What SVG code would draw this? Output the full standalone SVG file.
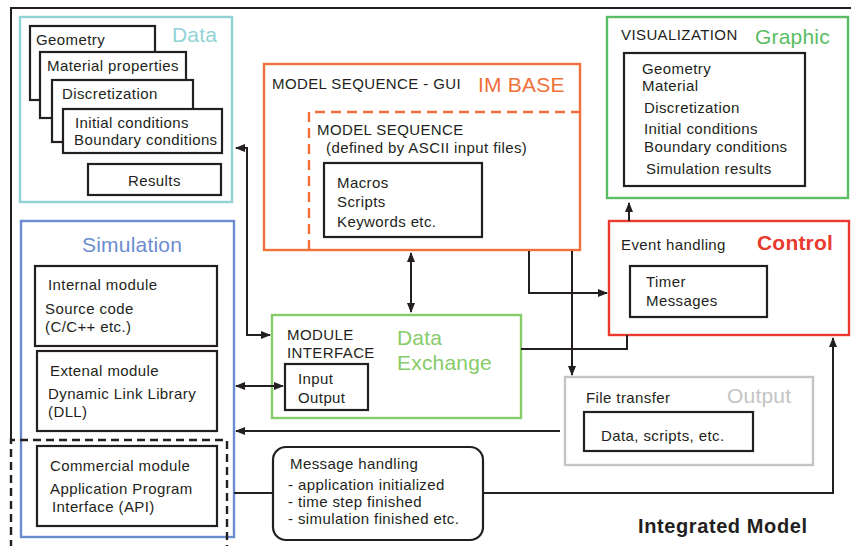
<svg xmlns="http://www.w3.org/2000/svg" width="851" height="546" viewBox="0 0 851 546">
<style>
text{font-family:"Liberation Sans",Arial,sans-serif;font-size:15px;letter-spacing:0.4px;fill:#231f20}
.t{font-size:21px;letter-spacing:0.2px}
.b{fill:none;stroke:#231f20;stroke-width:2.2}
.w{fill:#fff;stroke:#231f20;stroke-width:2.2}
.c{fill:none;stroke:#231f20;stroke-width:2}
</style>
<defs>
<marker id="ah" viewBox="0 0 10 10" refX="9" refY="5" markerWidth="5" markerHeight="5" orient="auto-start-reverse" markerUnits="strokeWidth">
<path d="M0 1L10 5L0 9Z" fill="#231f20"/>
</marker>
</defs>
<rect width="851" height="546" fill="#fff"/>
<g id="frame">
<path d="M11 440V8H851" class="c" stroke-width="2.4"/>
<text x="638" y="533" style="font-size:20px;font-weight:bold;letter-spacing:0.6px">Integrated Model</text>
</g>
<g id="data">
<rect x="20" y="17" width="212" height="185" fill="none" stroke="#91d3d5" stroke-width="2.4"/>
<text x="172" y="42" class="t" style="fill:#91d3d5">Data</text>
<rect x="30" y="26" width="125" height="74" class="w"/>
<text x="36" y="45">Geometry</text>
<rect x="40" y="52" width="146" height="66" class="w"/>
<text x="47" y="71">Material properties</text>
<rect x="52" y="80" width="141" height="62" class="w"/>
<text x="62" y="99">Discretization</text>
<rect x="63" y="109" width="159" height="44" class="w"/>
<text x="75" y="128">Initial conditions</text>
<text x="74" y="145">Boundary conditions</text>
<rect x="88" y="164" width="133" height="31" class="w"/>
<text x="128" y="186">Results</text>
</g>
<g id="imbase">
<rect x="264" y="64" width="316" height="186" fill="none" stroke="#f0703a" stroke-width="2.4"/>
<text x="272" y="89">MODEL SEQUENCE - GUI</text>
<text x="478" y="92" class="t" style="fill:#f0703a">IM BASE</text>
<path d="M309 250V112H580" fill="none" stroke="#f0703a" stroke-width="2.4" stroke-dasharray="10 6"/>
<text x="317" y="135">MODEL SEQUENCE</text>
<text x="326" y="153">(defined by ASCII input files)</text>
<rect x="324" y="163" width="158" height="74" class="b"/>
<text x="337" y="188">Macros</text>
<text x="337" y="207">Scripts</text>
<text x="337" y="227">Keywords etc.</text>
</g>
<g id="visualization">
<rect x="607" y="17" width="241" height="181" fill="none" stroke="#5bbd63" stroke-width="2.4"/>
<text x="621" y="40">VISUALIZATION</text>
<text x="755" y="44" class="t" style="fill:#5bbd63">Graphic</text>
<rect x="624" y="53" width="181" height="133" class="b"/>
<text x="642" y="74">Geometry</text>
<text x="642" y="91">Material</text>
<text x="644" y="113">Discretization</text>
<text x="644" y="134">Initial conditions</text>
<text x="644" y="152">Boundary conditions</text>
<text x="646" y="174">Simulation results</text>
</g>
<g id="control">
<rect x="609" y="221" width="240" height="114" fill="none" stroke="#ea3a30" stroke-width="2.4"/>
<text x="621" y="250">Event handling</text>
<text x="757" y="250" class="t" style="fill:#ea3a30;font-weight:bold">Control</text>
<rect x="630" y="266" width="137" height="51" class="b"/>
<text x="646" y="287">Timer</text>
<text x="646" y="306">Messages</text>
</g>
<g id="simulation">
<rect x="21" y="221" width="213" height="316" fill="none" stroke="#6b8dcf" stroke-width="2.4"/>
<text x="82" y="252" class="t" style="fill:#6b8dcf">Simulation</text>
<rect x="35" y="266" width="182" height="80" class="b"/>
<text x="48" y="290">Internal module</text>
<text x="45" y="314">Source code</text>
<text x="45" y="332">(C/C++ etc.)</text>
<rect x="37" y="351" width="180" height="80" class="b"/>
<text x="50" y="376">Extenal module</text>
<text x="48" y="399">Dynamic Link Library</text>
<text x="48" y="417">(DLL)</text>
<rect x="37" y="446" width="180" height="80" class="b"/>
<text x="50" y="471">Commercial module</text>
<text x="50" y="494">Application Program</text>
<text x="52" y="512">Interface (API)</text>
<path d="M11 548V440H227V548" fill="none" stroke="#231f20" stroke-width="2.4" stroke-dasharray="8 5"/>
</g>
<g id="dataexchange">
<rect x="272" y="315" width="249" height="103" fill="none" stroke="#86cc6a" stroke-width="2.4"/>
<text x="287" y="340">MODULE</text>
<text x="287" y="358">INTERFACE</text>
<text x="397" y="345" class="t" style="fill:#86cc6a">Data</text>
<text x="397" y="370" class="t" style="fill:#86cc6a">Exchange</text>
<rect x="285" y="364" width="83" height="46" class="b"/>
<text x="298" y="384">Input</text>
<text x="298" y="403">Output</text>
</g>
<g id="output">
<rect x="565" y="377" width="248" height="88" fill="none" stroke="#c4c4c6" stroke-width="2.4"/>
<text x="586" y="403">File transfer</text>
<text x="727" y="403" class="t" style="fill:#c4c4c6">Output</text>
<rect x="584" y="412" width="169" height="39" class="b"/>
<text x="601" y="441">Data, scripts, etc.</text>
</g>
<g id="messages">
<rect x="273" y="447" width="210" height="93" rx="13" class="b"/>
<text x="290" y="469">Message handling</text>
<text x="288" y="490">- application initialized</text>
<text x="288" y="507">- time step finished</text>
<text x="288" y="524">- simulation finished etc.</text>
</g>
<g id="connectors" class="c">
<path d="M270 335H247V148H236" class="c" marker-start="url(#ah)" marker-end="url(#ah)"/>
<path d="M411 253V312" class="c" marker-start="url(#ah)" marker-end="url(#ah)"/>
<path d="M529 251V293H607" class="c" marker-end="url(#ah)"/>
<path d="M572 251V375" class="c" marker-end="url(#ah)"/>
<path d="M629 221V203" class="c" marker-end="url(#ah)"/>
<path d="M521 349H627V335" class="c"/>
<path d="M236 386H283" class="c" marker-start="url(#ah)" marker-end="url(#ah)"/>
<path d="M560 431H236" class="c" marker-end="url(#ah)"/>
<path d="M234 493H273" class="c"/>
<path d="M483 493H833V338" class="c" marker-end="url(#ah)"/>
</g>
</svg>
